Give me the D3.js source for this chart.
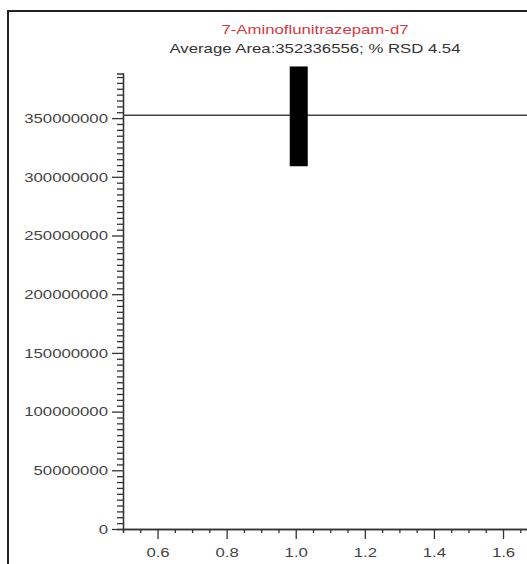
<!DOCTYPE html>
<html>
<head>
<meta charset="utf-8">
<script src="https://cdn.jsdelivr.net/npm/d3@7"></script>
<style>
  body { margin: 0; background: #fff; }
  svg { display: block; }
  .axis path, .axis line { stroke: #333; stroke-width: 1.3; }
  .axis text { font-family: "Liberation Sans", Arial, sans-serif; font-size: 13.5px; fill: #444; }
  .title { font-family: "Liberation Sans", Arial, sans-serif; font-size: 13.5px; }
</style>
</head>
<body>
<div id="chart"></div>
<script>
// chart data
var compound = "7-Aminoflunitrazepam-d7";
var subtitle = "Average Area:352336556; % RSD 4.54";
var averageArea = 352336556;
var rangeX = [1.0];
var rangeLow = [309000000];
var rangeHigh = [394000000];
var yMajorTicks = [0, 50000000, 100000000, 150000000, 200000000, 250000000, 300000000, 350000000];
var xMajorTicks = [0.6, 0.8, 1.0, 1.2, 1.4, 1.6];

var svgWidth = 527;
var svgHeight = 564;
var stretch = 1.24; // the picture text is wider than it is tall

var svg = d3.select("#chart")
  .append("svg")
  .attr("width", svgWidth)
  .attr("height", svgHeight);

// outer frame
svg.append("rect")
  .attr("x", 8)
  .attr("y", 11)
  .attr("width", 700)
  .attr("height", 700)
  .attr("fill", "none")
  .attr("stroke", "#222")
  .attr("stroke-width", 2);

var x = d3.scaleLinear()
  .domain([0.5, 1.67])
  .range([123, 527.2]);

var y = d3.scaleLinear()
  .domain([0, 388000000])
  .range([529, 73.5]);

var yMinor = d3.range(0, 386000000, 5000000).filter(v => v % 50000000 !== 0);
var xMinor = d3.range(0, 24).map(i => +(0.5 + i * 0.05).toFixed(2))
  .filter(v => v <= 1.66 && xMajorTicks.indexOf(v) < 0);

// minor ticks
svg.append("g")
  .attr("class", "axis")
  .attr("transform", "translate(123,0)")
  .call(d3.axisLeft(y).tickValues(yMinor).tickSize(6).tickFormat(""));

svg.append("g")
  .attr("class", "axis")
  .attr("transform", "translate(0,529)")
  .call(d3.axisBottom(x).tickValues(xMinor).tickSize(4).tickFormat(""));

// major ticks and labels
var yAxis = svg.append("g")
  .attr("class", "axis")
  .attr("transform", "translate(123,0)")
  .call(d3.axisLeft(y).tickValues(yMajorTicks).tickSize(11).tickPadding(4).tickSizeOuter(0).tickFormat(d3.format("d")));

var xAxis = svg.append("g")
  .attr("class", "axis")
  .attr("transform", "translate(0,529)")
  .call(d3.axisBottom(x).tickValues(xMajorTicks).tickSize(10).tickPadding(8).tickSizeOuter(0).tickFormat(d3.format(".1f")));

// average line
svg.append("line")
  .attr("x1", x(0.5))
  .attr("x2", x(1.67))
  .attr("y1", y(averageArea))
  .attr("y2", y(averageArea))
  .attr("stroke", "#444")
  .attr("stroke-width", 1.5);

// range bar
svg.selectAll(".bar")
  .data(rangeX)
  .enter()
  .append("rect")
  .attr("class", "bar")
  .attr("x", (d, i) => x(d) - 9 + 3)
  .attr("width", 18)
  .attr("y", (d, i) => y(rangeHigh[i]))
  .attr("height", (d, i) => y(rangeLow[i]) - y(rangeHigh[i]))
  .attr("fill", "#000");

// titles
svg.append("text")
  .attr("class", "title")
  .attr("x", 315)
  .attr("y", 34)
  .attr("text-anchor", "middle")
  .attr("fill", "#d23a44")
  .text(compound);

svg.append("text")
  .attr("class", "title")
  .attr("x", 315)
  .attr("y", 53)
  .attr("text-anchor", "middle")
  .attr("fill", "#333")
  .text(subtitle);

// widen all text to match the stretched look
svg.selectAll("text").each(function() {
  var len = this.getComputedTextLength();
  if (len > 0) {
    d3.select(this)
      .attr("textLength", len * stretch)
      .attr("lengthAdjust", "spacingAndGlyphs");
  }
});
</script>
</body>
</html>
